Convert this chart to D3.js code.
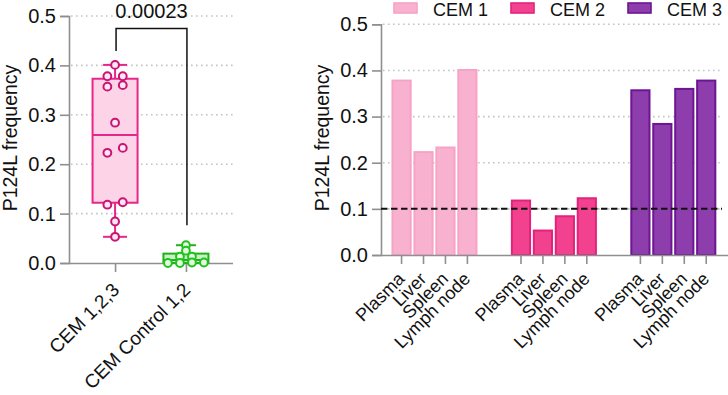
<!DOCTYPE html>
<html><head><meta charset="utf-8">
<script src="https://cdn.jsdelivr.net/npm/d3@7"></script>
<style>
html,body{margin:0;padding:0;background:#fff;}
svg{display:block;font-family:"Liberation Sans",Arial,sans-serif;}
</style></head>
<body>
<svg id="c" width="728" height="395"></svg>
<script>
// ---- data ----
const tissues = ["Plasma", "Liver", "Spleen", "Lymph node"];
const groups = ["CEM 1", "CEM 2", "CEM 3"];
const cem1 = [0.378, 0.223, 0.233, 0.401];
const cem2 = [0.118, 0.053, 0.084, 0.123];
const cem3 = [0.357, 0.284, 0.360, 0.378];
const threshold = 0.1;
const boxCategories = ["CEM 1,2,3", "CEM Control 1,2"];
const controlValues = [0.036, 0.025, 0.013, 0.013, 0.001, 0.0, 0.0, 0.001];
const pooledBoxStats = [0.053, 0.122, 0.259, 0.373, 0.401]; // min,q1,med,q3,max
const controlBoxStats = [0.0, 0.0, 0.006, 0.019, 0.036];
const pValueLabel = "0.00023";
const yTicks = [0, 0.1, 0.2, 0.3, 0.4, 0.5];
const yTitle = "P124L frequency";

const pooledValues = cem1.concat(cem2, cem3);

const svg = d3.select("#c");
const axisColor = "#8f8f8f";
const gridColor = "#c4c4c4";
const fontSize = 20;

function styleAxis(g) {
  g.selectAll(".domain").attr("stroke", axisColor).attr("stroke-width", 1.6);
  g.selectAll(".tick line").attr("stroke", axisColor).attr("stroke-width", 1.6);
  g.selectAll(".tick text").attr("fill", "#111").style("font-size", fontSize + "px")
    .style("font-family", '"Liberation Sans",Arial,sans-serif');
}

// ================= LEFT PANEL =================
const L = {left: 69, right: 233, top: 16, bottom: 263};
const yL = d3.scaleLinear().domain([0, 0.5]).range([L.bottom, L.top]);
const xL = d3.scalePoint().domain(boxCategories).range([L.left, 232]).padding(0.65);

// grid
svg.append("g").selectAll("line").data(yTicks.filter(d => d > 0)).join("line")
  .attr("x1", L.left + 2).attr("x2", L.right)
  .attr("y1", d => yL(d)).attr("y2", d => yL(d))
  .attr("stroke", gridColor).attr("stroke-width", 1.6).attr("stroke-dasharray", "1.6,3.4");

const gyL = svg.append("g").attr("transform", `translate(${L.left},0)`)
  .call(d3.axisLeft(yL).tickValues(yTicks).tickFormat(d3.format(".1f")).tickSize(9).tickPadding(4));
styleAxis(gyL);
const gxL = svg.append("g").attr("transform", `translate(0,${L.bottom})`)
  .call(d3.axisBottom(xL).tickSize(9).tickFormat(""));
gxL.select(".domain").attr("d", `M${L.left},0.5H${L.right}`);
styleAxis(gxL);

// x labels rotated
svg.append("g").selectAll("text").data(boxCategories).join("text")
  .attr("transform", d => `translate(${xL(d) + 5.5},${L.bottom + 28}) rotate(-45)`)
  .attr("text-anchor", "end")
  .style("font-size", "19px").attr("fill", "#111").text(d => d);

// y title
svg.append("text").attr("transform", `translate(16.5,138) rotate(-90)`)
  .attr("text-anchor", "middle").style("font-size", "19.5px").attr("fill", "#111").text(yTitle);

// box plots
const boxW = 45;
function drawBox(cat, stats, stroke, fill, capW) {
  const cx = xL(cat);
  const g = svg.append("g");
  g.append("line").attr("x1", cx).attr("x2", cx).attr("y1", yL(stats[0])).attr("y2", yL(stats[4]))
    .attr("stroke", stroke).attr("stroke-width", 2);
  g.append("rect").attr("x", cx - boxW / 2).attr("width", boxW)
    .attr("y", yL(stats[3])).attr("height", Math.max(0, yL(stats[1]) - yL(stats[3])))
    .attr("fill", fill).attr("stroke", stroke).attr("stroke-width", 2);
  g.append("line").attr("x1", cx - boxW / 2).attr("x2", cx + boxW / 2)
    .attr("y1", yL(stats[2])).attr("y2", yL(stats[2])).attr("stroke", stroke).attr("stroke-width", 2);
  [stats[0], stats[4]].forEach(v => g.append("line").attr("x1", cx - capW).attr("x2", cx + capW)
    .attr("y1", yL(v)).attr("y2", yL(v)).attr("stroke", stroke).attr("stroke-width", 2));
}

function swarm(vals, binH, spacing) {
  const items = vals.map(v => ({v, y: yL(v)})).sort((a, b) => b.v - a.v);
  const rows = [];
  items.forEach(it => {
    const r = rows[rows.length - 1];
    if (r && Math.abs(it.y - r[0].y) < binH) r.push(it); else rows.push([it]);
  });
  rows.forEach(r => {
    const n = r.length;
    r.forEach((it, i) => { it.dx = ((n - 1) / 2 - i) * spacing; });
  });
  return items;
}

function drawPoints(cat, vals, stroke, fill, binH, spacing) {
  const cx = xL(cat);
  svg.append("g").selectAll("circle").data(swarm(vals, binH, spacing)).join("circle")
    .attr("cx", d => cx + d.dx).attr("cy", d => d.y).attr("r", 3.9)
    .attr("fill", fill).attr("stroke", stroke).attr("stroke-width", 2);
}

drawBox(boxCategories[0], pooledBoxStats, "#e8268a", "#fdd3e7", 12);
drawPoints(boxCategories[0], pooledValues, "#c81475", "#fde6f1", 6, 15.4);
drawBox(boxCategories[1], controlBoxStats, "#1fb21c", "#c9f0c4", 10);
drawPoints(boxCategories[1], controlValues, "#22c21e", "#e4f8e0", 5, 12);

// significance bracket
const bx1 = xL(boxCategories[0]) + 1, bx2 = xL(boxCategories[1]) + 1, by = 28.5;
svg.append("path")
  .attr("d", `M${bx1},${yL(d3.max(pooledValues)) - 14}V${by}H${bx2}V${yL(controlBoxStats[4]) - 20}`)
  .attr("fill", "none").attr("stroke", "#111").attr("stroke-width", 1.5);
svg.append("text").attr("x", (bx1 + bx2) / 2).attr("y", 18).attr("text-anchor", "middle")
  .style("font-size", fontSize + "px").attr("fill", "#111").text(pValueLabel);

// ================= RIGHT PANEL =================
const R = {left: 381, right: 722, top: 24.3, bottom: 255};
const yR = d3.scaleLinear().domain([0, 0.5]).range([R.bottom, R.top]);
const x0 = d3.scaleBand().domain(groups).range([390.6, 717.2]).paddingInner(0.265).paddingOuter(0);
const x1 = d3.scaleBand().domain(tissues).range([0, x0.bandwidth()]).paddingInner(0.08).paddingOuter(0.04);
const seriesValues = [cem1, cem2, cem3];
const fills = ["#f8b2d0", "#f2418f", "#8e3dad"];
const strokes = ["#f6a3c6", "#e2237c", "#6d1592"];

svg.append("g").selectAll("line").data(yTicks.filter(d => d > 0)).join("line")
  .attr("x1", R.left + 2).attr("x2", R.right)
  .attr("y1", d => yR(d)).attr("y2", d => yR(d))
  .attr("stroke", gridColor).attr("stroke-width", 1.6).attr("stroke-dasharray", "1.6,3.4");

// bars
groups.forEach((gname, gi) => {
  svg.append("g").attr("transform", `translate(${x0(gname)},0)`)
    .selectAll("rect").data(tissues.map((t, i) => ({t, v: seriesValues[gi][i]}))).join("rect")
    .attr("x", d => x1(d.t) + 1).attr("width", x1.bandwidth() - 2)
    .attr("y", d => yR(d.v)).attr("height", d => yR(0) - yR(d.v))
    .attr("fill", fills[gi]).attr("stroke", strokes[gi]).attr("stroke-width", 2);
});

const gyR = svg.append("g").attr("transform", `translate(${R.left},0)`)
  .call(d3.axisLeft(yR).tickValues(yTicks).tickFormat(d3.format(".1f")).tickSize(9).tickPadding(4));
styleAxis(gyR);

// x axis with ticks at bar centres
const tickPos = [];
groups.forEach(g => tissues.forEach(t => tickPos.push({g, t, x: x0(g) + x1(t) + x1.bandwidth() / 2})));
const gxR = svg.append("g").attr("transform", `translate(0,${R.bottom})`);
gxR.append("path").attr("d", `M${R.left},0.5H728`).attr("stroke", axisColor).attr("stroke-width", 1.6);
gxR.selectAll("line").data(tickPos).join("line")
  .attr("x1", d => d.x).attr("x2", d => d.x).attr("y1", 0).attr("y2", 9)
  .attr("stroke", axisColor).attr("stroke-width", 1.6);
gxR.selectAll("text").data(tickPos).join("text")
  .attr("transform", d => `translate(${d.x + 4},${25}) rotate(-45)`)
  .attr("text-anchor", "end")
  .style("font-size", "18px").attr("fill", "#111").text(d => d.t);

// threshold line
svg.append("line").attr("x1", R.left).attr("x2", R.right)
  .attr("y1", yR(threshold)).attr("y2", yR(threshold))
  .attr("stroke", "#111").attr("stroke-width", 2).attr("stroke-dasharray", "6.5,3.5");

svg.append("text").attr("transform", `translate(329,138) rotate(-90)`)
  .attr("text-anchor", "middle").style("font-size", "19.5px").attr("fill", "#111").text(yTitle);

// legend
const legX = [394, 511, 628];
const leg = svg.append("g").selectAll("g").data(groups).join("g")
  .attr("transform", (d, i) => `translate(${legX[i]},2)`);
leg.append("rect").attr("x", 0).attr("y", 1).attr("width", 23).attr("height", 10)
  .attr("fill", (d, i) => fills[i]).attr("stroke", (d, i) => strokes[i]).attr("stroke-width", 1.6);
leg.append("text").attr("x", 39).attr("y", 14).style("font-size", "18px")
  .attr("fill", "#111").text(d => d);
</script>
</body></html>
